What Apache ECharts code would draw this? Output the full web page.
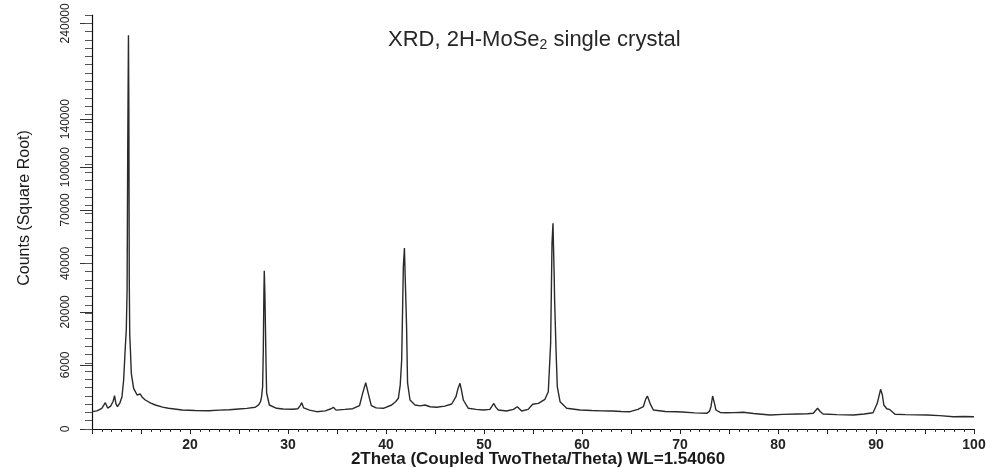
<!DOCTYPE html>
<html>
<head>
<meta charset="utf-8">
<script src="https://cdn.jsdelivr.net/npm/echarts@6/dist/echarts.min.js"></script>
<style>
html,body{margin:0;padding:0;background:#fff;}
#c{width:995px;height:468px;}
</style>
</head>
<body>
<div id="c"></div>
<script>
// 2Theta positions (degrees)
const twoTheta = [
10.0,10.5,11.0,11.36,11.6,11.9,12.15,12.3,12.45,12.6,12.85,13.06,13.23,13.4,13.5,13.58,13.65,13.72,13.76,13.8,13.85,13.92,14.01,14.25,14.6,14.8,14.93,15.1,15.44,16.0,16.46,17.2,17.8,19.2,20.5,21.9,23.0,24.0,24.97,25.8,26.66,27.0,27.2,27.3,27.41,27.48,27.54,27.58,27.64,27.7,27.76,27.82,28.1,28.84,29.5,30.5,31.0,31.25,31.4,31.6,32.2,32.93,33.8,34.4,34.63,34.9,35.8,36.6,37.3,37.6,37.93,38.2,38.5,39.0,39.73,40.58,41.0,41.26,41.45,41.6,41.77,41.88,41.95,42.02,42.1,42.2,42.45,42.96,43.5,43.98,44.5,45.17,46.0,46.7,47.14,47.35,47.55,47.7,47.89,48.4,49.2,49.93,50.6,51.0,51.2,51.46,52.3,53.0,53.4,53.84,54.5,54.97,55.55,56.22,56.56,56.8,56.94,57.04,57.1,57.16,57.2,57.35,57.48,57.76,58.44,59.8,61.0,62.0,62.7,62.85,63.1,64.0,64.9,65.7,66.26,66.5,66.67,66.94,67.28,68.5,69.66,69.8,70.2,71.5,72.72,73.0,73.16,73.33,73.5,73.67,74.1,74.76,75.5,76.46,77.5,79.2,80.5,82.0,83.0,83.6,84.04,84.3,84.6,86.0,87.7,88.8,89.7,90.13,90.47,90.65,90.8,91.1,91.36,91.94,93.0,95.2,96.5,97.9,99.0,100.0
];
// Counts at each position
const counts = [
440,480,620,1010,640,760,1100,1617,900,725,1000,1520,3500,9880,14300,28000,120000,226000,150000,34000,13000,9100,4525,2415,1686,1650,1787,1500,1227,980,840,700,625,526,500,489,520,540,583,620,687,850,1087,1500,2600,9100,26980,36550,27000,15000,6000,1890,840,625,580,565,600,800,1010,650,520,437,480,600,687,520,560,600,800,1800,3128,1800,800,650,625,840,1100,1375,2800,6945,38400,47800,35000,25000,15270,3090,1227,840,780,840,720,687,760,911,1520,2400,3045,2200,1227,625,560,526,560,950,700,526,472,560,725,472,560,890,962,1287,2030,10700,50300,61700,46700,35000,25000,9100,2610,1087,625,526,500,480,472,560,470,450,437,560,725,1300,1588,962,526,450,437,470,420,380,359,450,725,1588,1010,526,400,388,390,406,350,286,310,330,340,359,625,450,328,300,286,330,388,962,2300,1686,840,600,565,315,300,286,260,221,230,220
];
// Y tick labels (square-root axis)
const yTickValues = [0, 6000, 20000, 40000, 70000, 100000, 140000, 240000];
// X tick labels
const xTickLabels = [20, 30, 40, 50, 60, 70, 80, 90, 100];

const seriesData = twoTheta.map((t, i) => [t, Math.sqrt(counts[i])]);
const ySqrtTicks = yTickValues.map(Math.sqrt);

const chart = echarts.init(document.getElementById('c'), null, {renderer: 'canvas'});
const FONT = 'Liberation Sans, Arial, sans-serif';
chart.setOption({
  animation: false,
  backgroundColor: '#ffffff',
  title: {
    text: '{a|XRD, 2H-MoSe}{b|2}{a| single crystal}',
    left: 388,
    top: 28,
    padding: 0,
    textStyle: {
      fontWeight: 'normal',
      rich: {
        a: {fontFamily: FONT, fontSize: 22, fontWeight: 'normal', color: '#262626'},
        b: {fontFamily: FONT, fontSize: 14, fontWeight: 'normal', color: '#262626', padding: [10, 0, 0, 0]}
      }
    }
  },
  grid: {left: 92, right: 21, top: 15, bottom: 39, containLabel: false, outerBoundsMode: 'none'},
  xAxis: {
    type: 'value',
    min: 10,
    max: 100,
    interval: 5,
    name: '2Theta (Coupled TwoTheta/Theta) WL=1.54060',
    nameLocation: 'middle',
    nameGap: 30,
    nameMoveOverlap: false,
    nameTextStyle: {fontFamily: FONT, fontSize: 17, fontWeight: 'bold', color: '#1a1a1a', padding: [0, 0, 0, 10], verticalAlign: 'middle'},
    axisLine: {show: true, lineStyle: {color: '#111', width: 1.2}},
    axisTick: {show: true, length: 5, lineStyle: {color: '#222'}},
    minorTick: {show: true, splitNumber: 5, length: 3, lineStyle: {color: '#333'}},
    splitLine: {show: false},
    axisLabel: {
      margin: 9,
      fontFamily: FONT, fontSize: 14, fontWeight: 'bold', color: '#222',
      formatter: v => (xTickLabels.indexOf(v) >= 0 ? String(v) : '')
    }
  },
  yAxis: [{
    type: 'value',
    min: 0,
    max: 500,
    position: 'left',
    name: 'Counts (Square Root)',
    nameLocation: 'middle',
    nameRotate: 90,
    nameGap: 59,
    nameMoveOverlap: false,
    nameTextStyle: {fontFamily: FONT, fontSize: 16, color: '#1a1a1a', padding: [0, 0, 0, 28]},
    axisLine: {show: true, lineStyle: {color: '#111', width: 1.2}},
    axisTick: {show: true, length: 12, customValues: ySqrtTicks, lineStyle: {color: '#333'}},
    splitLine: {show: false},
    axisLabel: {
      customValues: ySqrtTicks,
      rotate: 90,
      margin: 20,
      fontFamily: FONT, fontSize: 12, color: '#222',
      formatter: v => String(Math.round(v * v))
    }
  }, {
    type: 'value',
    min: 0,
    max: 500,
    interval: 10,
    position: 'left',
    offset: 0,
    axisLine: {show: false},
    axisTick: {show: true, length: 7, lineStyle: {color: '#555'}},
    axisLabel: {show: false},
    splitLine: {show: false}
  }],
  series: [{
    type: 'line',
    yAxisIndex: 0,
    data: seriesData,
    showSymbol: false,
    symbol: 'none',
    lineStyle: {color: '#2a2a2a', width: 1.4},
    silent: true
  }]
});
</script>
</body>
</html>
